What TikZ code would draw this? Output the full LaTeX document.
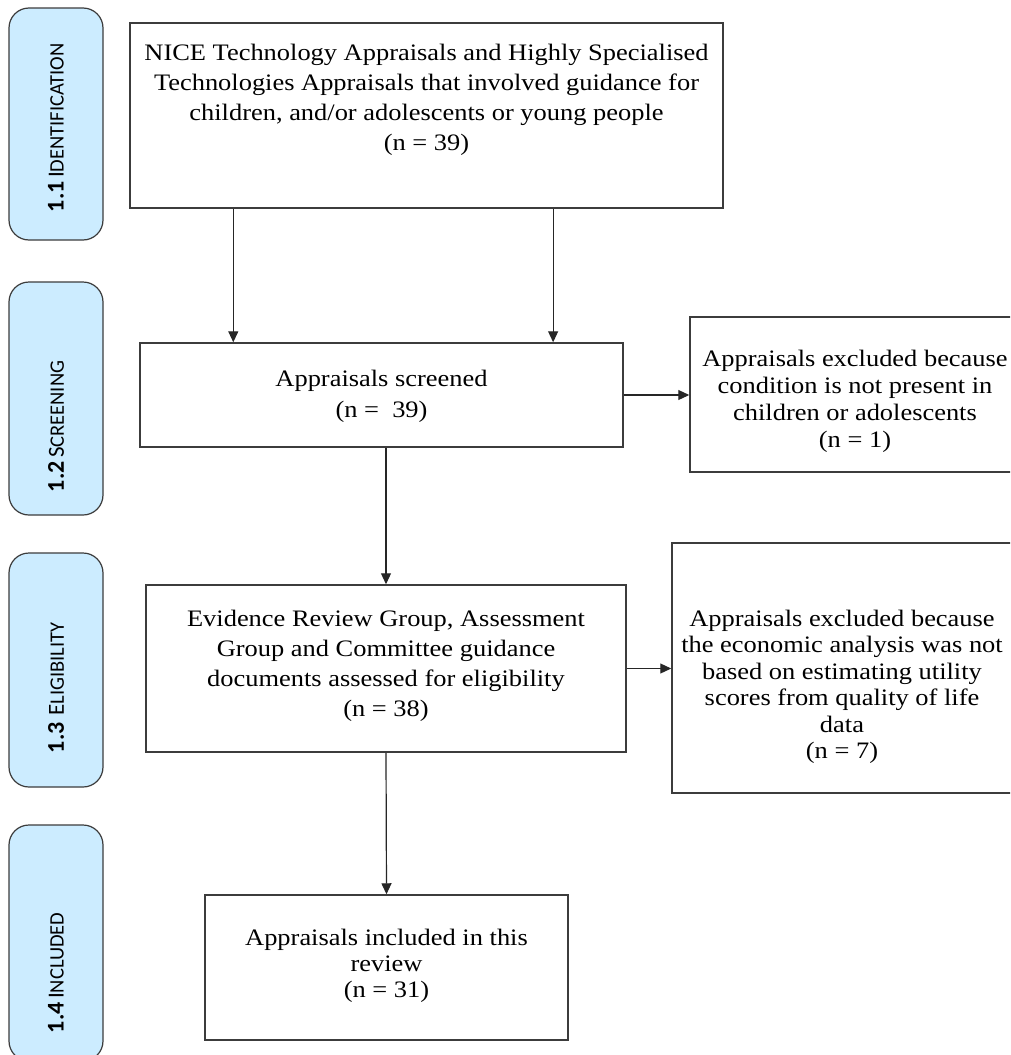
\documentclass[tikz,border=0pt]{standalone}
\usepackage{fontspec}
\setmainfont{Liberation Serif}[FakeStretch=1.12]
\newfontfamily\sidefont{Carlito}
\usetikzlibrary{arrows.meta,calc}
\definecolor{phaseblue}{RGB}{204,236,255}
\definecolor{edgegray}{RGB}{60,60,60}
% box text: width, height, gap above first line, baselineskip, text
\newcommand{\bt}[5]{\parbox[c][#2][t]{#1}{\fontsize{23.6}{#4}\selectfont\centering\vspace*{#3}#5\par}}
\newcommand{\phaselab}[3]{\mbox{{\fontsize{24}{24}\selectfont\bfseries #1}\ {\fontsize{23}{23}\selectfont #2}{\fontsize{20.5}{20.5}\selectfont #3}}}
\begin{document}
\begin{tikzpicture}[x=1pt,y=-1pt,
  box/.style={draw=edgegray, line width=1.5pt, fill=white, inner sep=0pt},
  phase/.style={draw=edgegray, line width=1.2pt, fill=phaseblue, rounded corners=20pt,
    rotate=90, minimum height=94pt, inner ysep=0pt, align=left, font=\sidefont},
  arr/.style={-{Triangle[length=11pt,width=10pt]}, line width=1.2pt, draw=black!85}]
\clip (0,0) rectangle (1010,1055);
\fill[white] (0,0) rectangle (1010,1055);
% phase labels
\node[phase, minimum width=232pt, text width=176pt, inner xsep=28pt] (s1) at (56,124) {\phaselab{1.1}{I}{DENTIFICATION}};
\node[phase, minimum width=233pt, text width=187pt, inner xsep=23pt] (s2) at (56,398.5) {\phaselab{1.2}{S}{CREENING}};
\node[phase, minimum width=234pt, text width=166pt, inner xsep=34pt] (s3) at (56,670) {\phaselab{1.3}{\ E}{LIGIBILITY}};
\node[phase, minimum width=236pt, text width=180pt, inner xsep=28pt] (s4) at (56,943) {\phaselab{1.4}{I}{NCLUDED}};
% main boxes
\node[box] (b1) at (426.5,115.5)
  {\bt{593pt}{185pt}{21.5pt}{30pt}{NICE Technology Appraisals and Highly Specialised\\Technologies Appraisals that involved guidance for\\children, and/or adolescents or young people\\(n = 39)}};
\node[box] (b2) at (381.5,395)
  {\bt{483pt}{104pt}{27pt}{31pt}{Appraisals screened\\(n =\ \ 39)}};
\node[box] (e1) at (855,394.5)
  {\bt{330pt}{155pt}{33pt}{27pt}{Appraisals excluded because\\condition is not present in\\children or adolescents\\(n = 1)}};
\node[box] (b3) at (386,668.5)
  {\bt{480pt}{167pt}{25.5pt}{30pt}{Evidence Review Group, Assessment\\Group and Committee guidance\\documents assessed for eligibility\\(n = 38)}};
\node[box] (e2) at (842,668)
  {\bt{340pt}{250pt}{67pt}{26.5pt}{Appraisals excluded because\\the economic analysis was not\\based on estimating utility\\scores from quality of life\\data\\(n = 7)}};
\node[box] (b4) at (386.5,967.5)
  {\bt{363pt}{145pt}{34pt}{26pt}{Appraisals included in this\\review\\(n = 31)}};
% connectors
\coordinate (p1) at ($(b1.south west)!0.175!(b1.south east)$);
\coordinate (p2) at ($(b1.south west)!0.713!(b1.south east)$);
\draw[arr] (p1) -- (p1 |- b2.north);
\draw[arr] (p2) -- (p2 |- b2.north);
\draw[arr] (b2.east) -- (b2.east -| e1.west);
\draw[arr] (b2.south -| b3.north) -- (b3.north);
\draw[arr] (b3.east) -- (b3.east -| e2.west);
\draw[arr] (b3.south) -- (b4.north);
\end{tikzpicture}
\end{document}
